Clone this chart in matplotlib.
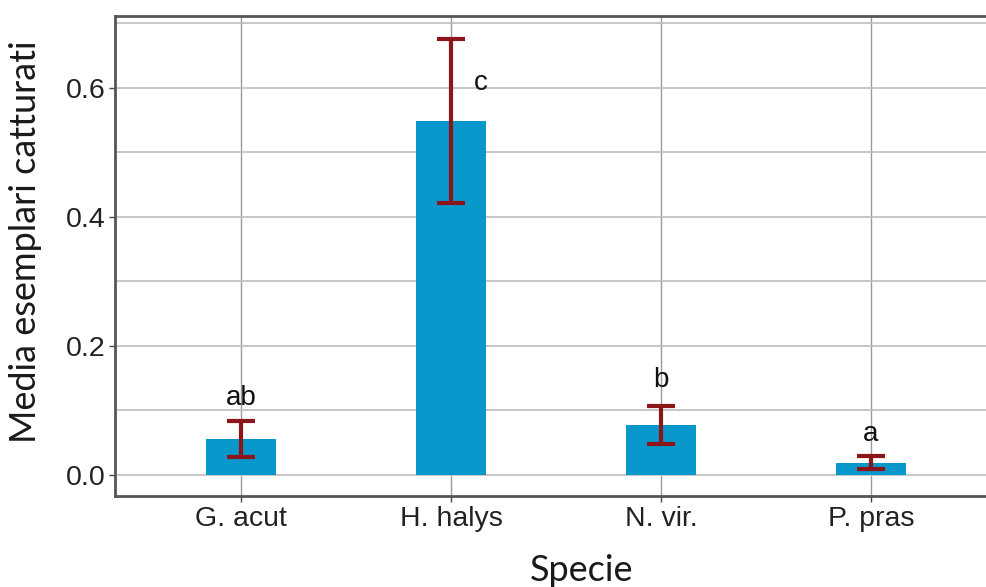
import matplotlib
matplotlib.use('Agg')
import matplotlib.pyplot as plt
import numpy as np

species = ['G. acut', 'H. halys', 'N. vir.', 'P. pras']
means = [0.056, 0.549, 0.078, 0.019]
err_low = [0.028, 0.422, 0.048, 0.009]
err_high = [0.084, 0.676, 0.107, 0.029]
letters = ['ab', 'c', 'b', 'a']
letter_y = [0.119, 0.608, 0.147, 0.064]
letter_dx = [0.0, 0.14, 0.0, 0.0]

x = np.arange(1, len(species) + 1)
means = np.array(means)
yerr = [means - np.array(err_low), np.array(err_high) - means]

fig = plt.figure(figsize=(9.87, 5.87), dpi=100)
fig.patch.set_facecolor('white')
ax = fig.add_axes([115 / 987, 1 - 496 / 587, 882 / 987, 480 / 587])

# grid
ax.set_axisbelow(True)
ax.set_yticks([0.0, 0.2, 0.4, 0.6])
ax.set_yticks([0.1, 0.3, 0.5, 0.7], minor=True)
ax.grid(True, which='major', color='#bdbdbd', linewidth=1.2)
ax.grid(True, which='minor', axis='y', color='#bdbdbd', linewidth=1.2)
ax.xaxis.grid(True, color='#9a9a9a', linewidth=1.0)

ax.bar(x, means, width=0.333, color='#0898cc', zorder=2)
ax.errorbar(x, means, yerr=yerr, fmt='none', ecolor='#8b1518',
            elinewidth=3, capsize=10, capthick=3, zorder=3)

for xi, lab, ly, dx in zip(x, letters, letter_y, letter_dx):
    ax.text(xi + dx, ly, lab, ha='center', va='center', fontsize=20,
            family='Liberation Sans', color='#111111', zorder=4)

ax.set_xlim(0.4, 4.6)
ax.set_ylim(-0.0326, 0.7116)
ax.set_xticks(x)
ax.set_xticklabels(species)
ax.set_yticklabels(['0.0', '0.2', '0.4', '0.6'])

for lab in ax.get_xticklabels() + ax.get_yticklabels():
    lab.set_family('Liberation Sans')
    lab.set_fontsize(20.5)
    lab.set_color('#222222')
ax.tick_params(axis='both', which='major', length=4, width=1, color='#444444', pad=3)
ax.tick_params(axis='y', which='minor', length=0)

for side in ['left', 'bottom', 'top']:
    ax.spines[side].set_color('#555555')
    ax.spines[side].set_linewidth(2)
ax.spines['right'].set_visible(False)

ax.set_xlabel('Specie', fontsize=26, family='Lato', color='#1a1a1a')
ax.set_ylabel('Media esemplari catturati', fontsize=26, family='Lato', color='#1a1a1a')
ax.xaxis.set_label_coords(0.529, -0.12)
ax.yaxis.set_label_coords(-0.083, 0.529)

fig.savefig('out.png', dpi=100)
